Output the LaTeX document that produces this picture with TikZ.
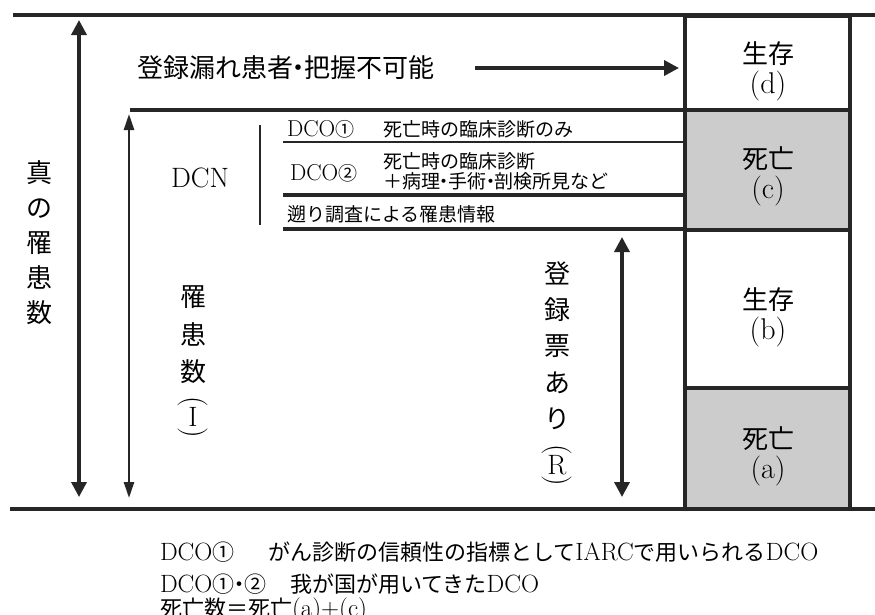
\documentclass[tikz,border=0pt]{standalone}
\usepackage{fontspec}
\newfontfamily\jp{Noto Sans CJK JP}
\usetikzlibrary{arrows.meta}
\definecolor{linec}{HTML}{262626}
\definecolor{cellgray}{HTML}{CCCCCC}
\newcommand{\bigsz}{\fontsize{26}{30}\selectfont}
\newcommand{\latbig}{\fontsize{30}{30}\selectfont}
\newcommand{\smsz}{\fontsize{19}{20}\selectfont}
\newcommand{\latsm}{\fontsize{23}{20}\selectfont}
\newcommand{\footsz}{\fontsize{22}{24}\selectfont}
\newcommand{\latfoot}{\fontsize{25}{24}\selectfont}
\newcommand{\nd}{\kern-.28em・\kern-.28em}
\begin{document}
\begin{tikzpicture}[x=1pt,y=-1pt,
  thickln/.style={line width=4.5pt,draw=linec},
  midln/.style={line width=4pt,draw=linec},
  thinln/.style={line width=1.6pt,draw=linec},
  bigarrow/.style={line width=3.5pt,draw=linec,{Triangle[length=15pt,width=15pt]}-{Triangle[length=15pt,width=15pt]}},
  narrowarrow/.style={line width=2.5pt,draw=linec,{Triangle[length=16pt,width=10pt]}-{Triangle[length=16pt,width=10pt]}},
  onearrow/.style={line width=3.5pt,draw=linec,-{Triangle[length=15pt,width=15pt]}},
  cell/.style={draw=linec,line width=4pt,minimum width=165pt,inner sep=0pt},
  txt/.style={inner sep=0pt,outer sep=0pt,text=black},
  paren/.style={txt,rotate=-90,font=\fontsize{30}{30}\selectfont},
  celltxt/.style={txt,align=center,font=\bigsz},
]
\useasboundingbox (0,0) rectangle (875,614);
\fill[white] (0,0) rectangle (875,614);

% right column cells
\node[cell,minimum height=94pt] (d) at (767.5,63) {};
\node[cell,fill=cellgray,minimum height=120pt] (c) at (767.5,170) {};
\node[cell,minimum height=158pt] (b) at (767.5,309) {};
\node[cell,fill=cellgray,minimum height=121pt] (a) at (767.5,448.5) {};

% frame lines
\coordinate (tl) at (13,15); \coordinate (tr) at (875,15);
\draw[thickln] (tl) -- (tr);
\coordinate (bl) at (10,509); \coordinate (br) at (875,509);
\draw[thickln] (bl) -- (br);
\coordinate (l2) at (130,110);
\draw[thickln] (l2) -- (l2 -| c.west);
\coordinate (l3) at (283,142);
\draw[thinln] (l3) -- (l3 -| c.west);
\coordinate (l4) at (283,195);
\draw[midln] (l4) -- (l4 -| c.west);
\coordinate (l5) at (283,229);
\draw[midln] (l5) -- (l5 -| c.west);

% bracket
\coordinate (bk1) at (260,125); \coordinate (bk2) at (260,225);
\draw[line width=1.3pt,draw=linec] (bk1) -- (bk2);

% arrows
\coordinate (a1t) at (79,20); \coordinate (a1b) at (79,497);
\draw[bigarrow] (a1t) -- (a1b);
\coordinate (a2t) at (129,114); \coordinate (a2b) at (129,498);
\draw[narrowarrow] (a2t) -- (a2b);
\coordinate (a3t) at (622,237); \coordinate (a3b) at (622,497);
\draw[bigarrow] (a3t) -- (a3b);
\coordinate (ha) at (475,68);
\draw[onearrow] (ha) -- ([xshift=-4pt]ha -| d.west);

% texts
\node[txt,anchor=west,font=\jp\bigsz] (leak) at (137,68) {登録漏れ患者\nd 把握不可能};

\node[celltxt] (dl) at (768,71) {{\jp 生存}\\{\latbig (d)}};
\node[celltxt] (cl) at (768,176) {{\jp 死亡}\\{\latbig (c)}};
\node[celltxt] (bl2) at (768,317) {{\jp 生存}\\{\latbig (b)}};
\node[celltxt] (al) at (768,456) {{\jp 死亡}\\{\latbig (a)}};

\node[txt,font=\fontsize{28}{28}\selectfont] (dcn) at (200,178) {DCN};

\node[txt,anchor=west,font=\latsm] (dco1) at (287,129) {DCO{\jp\smsz ①}};
\node[txt,anchor=west,font=\jp\smsz] (dco1t) at (383,129) {死亡時の臨床診断のみ};
\node[txt,anchor=west,font=\latsm] (dco2) at (290,173) {DCO{\jp\smsz ②}};
\node[txt,anchor=west,font=\jp\smsz] (dco2a) at (383,161) {死亡時の臨床診断};
\node[txt,anchor=west,font=\jp\smsz] (dco2b) at (383,181) {＋病理\nd 手術\nd 剖検所見など};
\node[txt,anchor=west,font=\jp\smsz] (retro) at (287,214) {遡り調査による罹患情報};

% vertical labels
\node[txt,align=center,font=\jp\fontsize{26}{35}\selectfont] (truen) at (40,243) {真\\の\\罹\\患\\数};

\node[txt,align=center,font=\jp\fontsize{26}{37.5}\selectfont] (inc) at (193,335) {罹\\患\\数};
\node[paren] (ip1) at (193,402) {(};
\node[txt,font=\fontsize{28}{28}\selectfont] (ich) at (193,417) {I};
\node[paren] (ip2) at (193,433) {)};

\node[txt,align=center,font=\jp\fontsize{26}{36.25}\selectfont] (reg) at (557,345.5) {登\\録\\票\\あ\\り};
\node[paren] (rp1) at (557,450) {(};
\node[txt,font=\fontsize{28}{28}\selectfont] (rch) at (557,465) {R};
\node[paren] (rp2) at (557,481) {)};

% footnotes
\node[txt,anchor=west,font=\latfoot] (f1a) at (160,552) {DCO{\jp\footsz ①}};
\node[txt,anchor=west,font=\latfoot] (f1b) at (268,552) {{\jp\footsz がん診断の信頼性の指標として}IARC{\jp\footsz で用いられる}DCO};
\node[txt,anchor=west,font=\latfoot] (f2a) at (160,584) {DCO{\jp\footsz ①\nd ②}};
\node[txt,anchor=west,font=\latfoot] (f2b) at (290,584) {{\jp\footsz 我が国が用いてきた}DCO};
\node[txt,anchor=west,font=\latfoot] (f3) at (160,610) {{\jp\footsz 死亡数＝死亡}(a)+(c)};
\end{tikzpicture}
\end{document}
